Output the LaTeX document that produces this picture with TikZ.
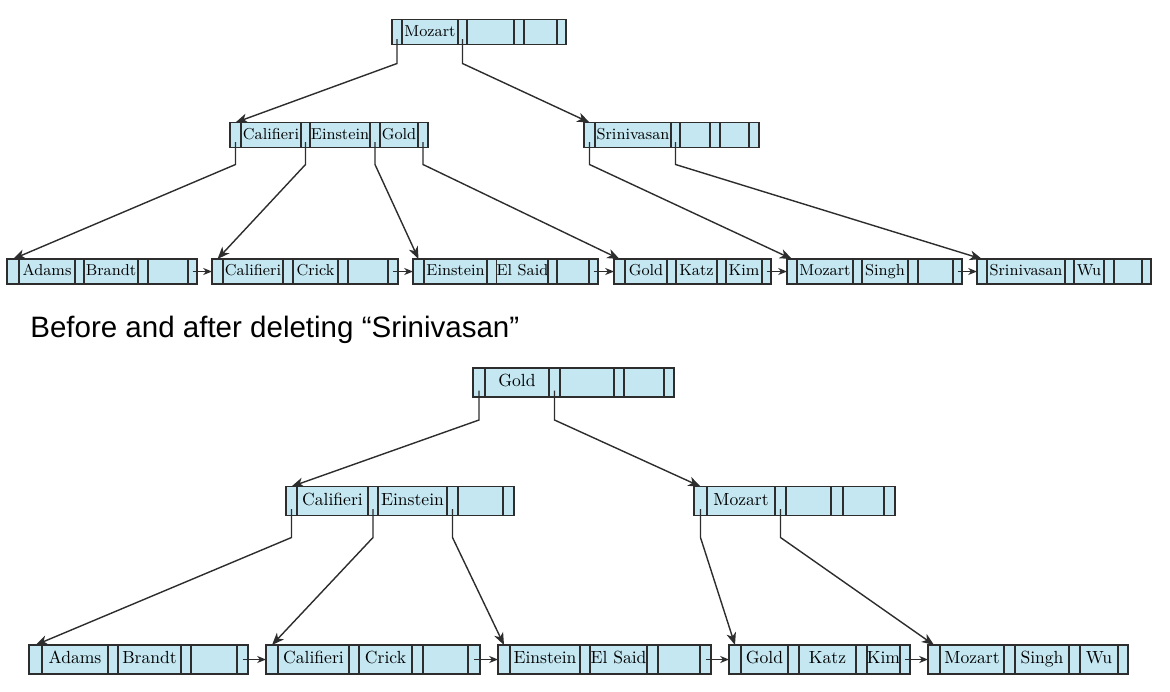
\documentclass[tikz,border=0pt]{standalone}
\usepackage{fontspec}
\usepackage{tikz}
\usetikzlibrary{arrows.meta}
\newfontfamily\headfont{Liberation Sans}
\definecolor{cellblue}{RGB}{196,231,241}
\definecolor{linegray}{RGB}{45,45,45}

\begin{document}
\begin{tikzpicture}[x=0.02cm, y=-0.02cm,
		cell/.style={draw=linegray, fill=cellblue, line width=0.7pt, inner sep=0pt, outer sep=0pt, text height=0.7em, text depth=0.2em},
		top/.style={cell, minimum height=0.5cm, font=\fontsize{9}{10}\selectfont},
		bot/.style={cell, minimum height=0.58cm, font=\fontsize{10}{11}\selectfont},
		ptr/.style={draw=linegray, line width=0.8pt, -{Stealth[length=7pt,width=5.5pt,inset=2pt]}},
		nxt/.style={draw=linegray, line width=0.75pt, -{Stealth[length=5pt,width=4pt,inset=1.5pt]}}]
			\useasboundingbox (0,0) rectangle (1170,691);

			% before: root, inner level, leaves
			\foreach \a/\b/\t [count=\i] in {392/402/, 402/458/Mozart, 458/467/, 467/514/, 514/524/, 524/557/, 557/566/}
				\node[top, minimum width=(\b-\a)*0.02cm] (rt_\i) at ({(\a+\b)/2},32) {\t};
			\foreach \a/\b/\t [count=\i] in {230/241/, 241/301/Califieri, 301/310/, 310/370/Einstein, 370/380/, 380/418/Gold, 418/428/}
				\node[top, minimum width=(\b-\a)*0.02cm] (ia_\i) at ({(\a+\b)/2},135) {\t};
			\foreach \a/\b/\t [count=\i] in {584/595/, 595/671/Srinivasan, 671/680/, 680/710/, 710/720/, 720/749/, 749/759/}
				\node[top, minimum width=(\b-\a)*0.02cm] (ib_\i) at ({(\a+\b)/2},135) {\t};

			\foreach \a/\b/\t [count=\i] in {7/19/, 19/75/Adams, 75/84/, 84/138/Brandt, 138/148/, 148/188/, 188/197/}
				\node[top, minimum width=(\b-\a)*0.02cm] (la_\i) at ({(\a+\b)/2},271.5) {\t};
			\foreach \a/\b/\t [count=\i] in {212/223/, 223/283/Califieri, 283/293/, 293/338/Crick, 338/348/, 348/388/, 388/398/}
				\node[top, minimum width=(\b-\a)*0.02cm] (lb_\i) at ({(\a+\b)/2},271.5) {\t};
			\foreach \a/\b/\t [count=\i] in {413/424/, 424/487/Einstein, 487/497/, 497/548/El Said, 548/557/, 557/589/, 589/598/}
				\node[top, minimum width=(\b-\a)*0.02cm] (lc_\i) at ({(\a+\b)/2},271.5) {\t};
			\foreach \a/\b/\t [count=\i] in {614/625/, 625/667/Gold, 667/676/, 676/717/Katz, 717/726/, 726/762/Kim, 762/771/}
				\node[top, minimum width=(\b-\a)*0.02cm] (ld_\i) at ({(\a+\b)/2},271.5) {\t};
			\foreach \a/\b/\t [count=\i] in {787/797/, 797/853/Mozart, 853/862/, 862/908/Singh, 908/918/, 918/953/, 953/962/}
				\node[top, minimum width=(\b-\a)*0.02cm] (le_\i) at ({(\a+\b)/2},271.5) {\t};
			\foreach \a/\b/\t [count=\i] in {977/987/, 987/1065/Srinivasan, 1065/1074/, 1074/1104/Wu, 1104/1114/, 1114/1142/, 1142/1151/}
				\node[top, minimum width=(\b-\a)*0.02cm] (lf_\i) at ({(\a+\b)/2},271.5) {\t};

			\foreach \p/\c in {1/ia,3/ib}
				\draw[ptr] ([yshift=-0.14cm]rt_\p.center) -- ([yshift=-0.38cm]rt_\p.south) -- (\c_1.north);
			\foreach \p/\c in {1/la,3/lb,5/lc,7/ld}
				\draw[ptr] ([yshift=-0.14cm]ia_\p.center) -- ([yshift=-0.34cm]ia_\p.south) -- (\c_1.north);
			\foreach \p/\c in {1/le,3/lf}
				\draw[ptr] ([yshift=-0.14cm]ib_\p.center) -- ([yshift=-0.34cm]ib_\p.south) -- (\c_1.north);
			\foreach \x/\y in {la/lb,lb/lc,lc/ld,ld/le,le/lf}
				\draw[nxt] (\x_7.center) -- (\y_1.west);

			\node[anchor=base west, inner sep=0pt, font=\headfont\fontsize{16.8}{19}\selectfont] (title) at (30,337) {Before and after deleting “Srinivasan”};

			% after
			\foreach \a/\b/\t [count=\i] in {473/485/, 485/549/Gold, 549/560/, 560/614/, 614/624/, 624/664/, 664/674/}
				\node[bot, minimum width=(\b-\a)*0.02cm] (brt_\i) at ({(\a+\b)/2},382.5) {\t};
			\foreach \a/\b/\t [count=\i] in {286/297/, 297/368/Califieri, 368/378/, 378/447/Einstein, 447/458/, 458/503/, 503/514/}
				\node[bot, minimum width=(\b-\a)*0.02cm] (bia_\i) at ({(\a+\b)/2},501) {\t};
			\foreach \a/\b/\t [count=\i] in {694/707/, 707/775/Mozart, 775/786/, 786/831/, 831/843/, 843/884/, 884/895/}
				\node[bot, minimum width=(\b-\a)*0.02cm] (bib_\i) at ({(\a+\b)/2},501) {\t};

			\foreach \a/\b/\t [count=\i] in {29/42/, 42/108/Adams, 108/118/, 118/181/Brandt, 181/191/, 191/237/, 237/248/}
				\node[bot, minimum width=(\b-\a)*0.02cm] (bla_\i) at ({(\a+\b)/2},659.5) {\t};
			\foreach \a/\b/\t [count=\i] in {266/278/, 278/349/Califieri, 349/359/, 359/412/Crick, 412/423/, 423/468/, 468/480/}
				\node[bot, minimum width=(\b-\a)*0.02cm] (blb_\i) at ({(\a+\b)/2},659.5) {\t};
			\foreach \a/\b/\t [count=\i] in {498/510/, 510/580/Einstein, 580/590/, 590/647/El Said, 647/658/, 658/700/, 700/711/}
				\node[bot, minimum width=(\b-\a)*0.02cm] (blc_\i) at ({(\a+\b)/2},659.5) {\t};
			\foreach \a/\b/\t [count=\i] in {729/741/, 741/788/Gold, 788/799/, 799/856/Katz, 856/867/, 867/900/Kim, 900/910/}
				\node[bot, minimum width=(\b-\a)*0.02cm] (bld_\i) at ({(\a+\b)/2},659.5) {\t};
			\foreach \a/\b/\t [count=\i] in {928/940/, 940/1004/Mozart, 1004/1015/, 1015/1069/Singh, 1069/1080/, 1080/1118/Wu, 1118/1128/}
				\node[bot, minimum width=(\b-\a)*0.02cm] (ble_\i) at ({(\a+\b)/2},659.5) {\t};

			\foreach \p/\c in {1/bia,3/bib}
				\draw[ptr] ([yshift=-0.16cm]brt_\p.center) -- ([yshift=-0.46cm]brt_\p.south) -- (\c_1.north);
			\foreach \p/\c in {1/bla,3/blb,5/blc}
				\draw[ptr] ([yshift=-0.16cm]bia_\p.center) -- ([yshift=-0.44cm]bia_\p.south) -- (\c_1.north);
			\foreach \p/\c in {1/bld,3/ble}
				\draw[ptr] ([yshift=-0.16cm]bib_\p.center) -- ([yshift=-0.44cm]bib_\p.south) -- (\c_1.north);
			\foreach \x/\y in {bla/blb,blb/blc,blc/bld,bld/ble}
				\draw[nxt] (\x_7.center) -- (\y_1.west);
\end{tikzpicture}
\end{document}
